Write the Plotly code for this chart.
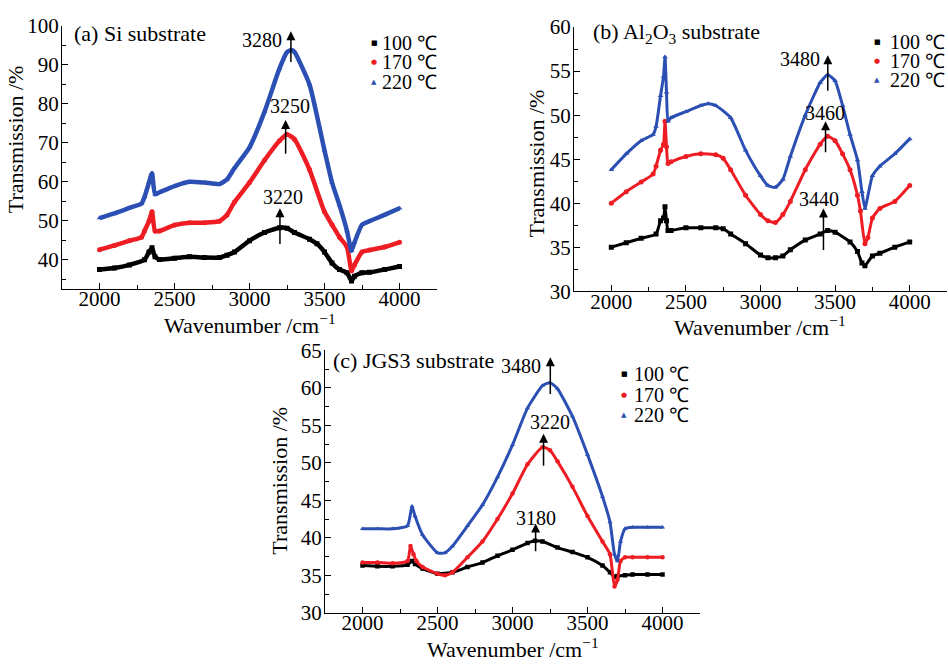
import plotly.graph_objects as go

# ---------------- data ----------------
# (a) Si substrate
a_x_100 = [2000, 2100, 2200, 2300, 2330, 2350, 2370, 2400, 2500, 2600, 2700, 2800, 2850, 2900, 3000, 3100, 3200, 3250, 3300, 3400, 3450, 3500, 3550, 3600, 3650, 3680, 3700, 3750, 3800, 3900, 4000]
a_y_100 = [37.5, 37.9, 38.7, 40.0, 42.0, 43.1, 40.8, 40.1, 40.4, 40.8, 40.6, 40.6, 41.2, 42.0, 44.9, 47.0, 48.2, 48.1, 47.0, 45.3, 44.1, 42.0, 39.2, 37.5, 36.7, 34.6, 35.8, 36.7, 36.8, 37.5, 38.3]
a_x_170 = [2000, 2100, 2200, 2280, 2300, 2330, 2350, 2370, 2400, 2500, 2600, 2700, 2800, 2850, 2900, 3000, 3100, 3200, 3250, 3300, 3400, 3500, 3550, 3600, 3650, 3680, 3700, 3750, 3800, 3900, 4000]
a_y_170 = [42.6, 43.7, 44.9, 45.8, 47.4, 49.9, 52.3, 47.4, 47.4, 48.9, 49.5, 49.5, 49.9, 51.5, 54.8, 59.8, 65.5, 70.5, 72.1, 70.9, 63.1, 52.3, 49.0, 45.8, 43.3, 37.2, 38.7, 42.0, 42.5, 43.3, 44.5]
a_x_220 = [2000, 2100, 2200, 2280, 2300, 2330, 2350, 2370, 2400, 2500, 2600, 2700, 2800, 2850, 2900, 3000, 3100, 3200, 3250, 3280, 3300, 3400, 3500, 3550, 3600, 3650, 3680, 3700, 3750, 3800, 3900, 4000]
a_y_220 = [50.7, 51.9, 53.3, 54.4, 56.1, 59.8, 62.2, 56.8, 57.3, 58.9, 60.0, 59.8, 59.4, 60.6, 63.5, 68.8, 77.9, 89.0, 93.2, 93.7, 93.2, 84.9, 68.0, 59.8, 54.0, 47.4, 42.3, 44.5, 49.0, 49.9, 51.5, 53.2]

# (b) Al2O3 substrate
b_x_100 = [2000, 2100, 2200, 2300, 2330, 2350, 2360, 2370, 2380, 2400, 2500, 2600, 2700, 2750, 2800, 2900, 3000, 3050, 3100, 3150, 3200, 3300, 3400, 3450, 3500, 3600, 3650, 3680, 3700, 3750, 3800, 3900, 4000]
b_y_100 = [35.0, 35.5, 36.0, 36.5, 38.0, 38.3, 39.6, 38.0, 36.9, 36.9, 37.2, 37.2, 37.2, 37.1, 36.5, 35.4, 34.1, 33.8, 33.8, 34.0, 34.7, 35.8, 36.5, 36.9, 36.7, 35.6, 34.5, 33.2, 32.9, 34.0, 34.3, 35.0, 35.6]
b_x_170 = [2000, 2100, 2200, 2280, 2300, 2330, 2350, 2360, 2370, 2380, 2400, 2500, 2600, 2700, 2750, 2800, 2900, 3000, 3050, 3100, 3150, 3200, 3300, 3400, 3450, 3500, 3550, 3600, 3650, 3670, 3700, 3720, 3750, 3800, 3900, 4000]
b_y_170 = [40.0, 41.3, 42.4, 43.3, 44.2, 46.0, 46.7, 49.3, 46.4, 44.5, 44.7, 45.3, 45.6, 45.5, 45.1, 43.8, 40.9, 38.7, 38.0, 37.8, 38.7, 40.2, 43.8, 46.7, 47.6, 47.1, 45.6, 43.8, 40.9, 39.1, 35.4, 36.1, 38.3, 39.4, 40.2, 42.0]
b_x_220 = [2000, 2100, 2200, 2280, 2300, 2330, 2350, 2360, 2370, 2380, 2400, 2500, 2600, 2650, 2700, 2800, 2900, 3000, 3050, 3100, 3150, 3200, 3300, 3400, 3450, 3500, 3550, 3600, 3650, 3680, 3700, 3750, 3800, 3900, 4000]
b_y_220 = [43.8, 45.6, 47.1, 47.8, 48.7, 52.2, 54.4, 56.6, 52.6, 49.3, 49.7, 50.4, 51.1, 51.3, 51.1, 49.7, 46.0, 43.1, 42.0, 41.8, 42.7, 45.3, 50.0, 53.7, 54.6, 53.9, 51.1, 47.8, 44.9, 41.3, 39.4, 43.1, 44.2, 45.6, 47.3]

# (c) JGS3 substrate
c_x_100 = [2000, 2100, 2200, 2300, 2330, 2350, 2400, 2500, 2600, 2700, 2800, 2900, 3000, 3100, 3150, 3200, 3300, 3400, 3500, 3600, 3650, 3680, 3700, 3750, 3800, 3900, 4000]
c_y_100 = [36.3, 36.2, 36.2, 36.4, 36.9, 36.5, 35.9, 35.2, 35.4, 36.1, 36.7, 37.6, 38.4, 39.3, 39.6, 39.5, 38.7, 38.1, 37.4, 36.3, 35.4, 34.8, 34.9, 35.0, 35.1, 35.1, 35.1]
c_x_170 = [2000, 2100, 2200, 2300, 2320, 2340, 2360, 2400, 2500, 2550, 2600, 2700, 2800, 2900, 3000, 3100, 3200, 3250, 3300, 3400, 3500, 3600, 3650, 3680, 3700, 3720, 3750, 3800, 3900, 4000]
c_y_170 = [36.7, 36.7, 36.6, 36.9, 38.9, 37.8, 36.9, 36.1, 35.2, 35.0, 35.4, 37.4, 39.5, 42.5, 45.9, 49.8, 52.1, 51.7, 50.2, 46.8, 42.9, 39.5, 37.8, 33.5, 34.4, 36.9, 37.4, 37.4, 37.4, 37.4]
c_x_220 = [2000, 2100, 2200, 2300, 2330, 2350, 2400, 2500, 2550, 2600, 2700, 2800, 2900, 3000, 3100, 3200, 3250, 3300, 3400, 3500, 3600, 3650, 3680, 3700, 3720, 3750, 3800, 3900, 4000]
c_y_220 = [41.2, 41.2, 41.2, 41.6, 44.2, 42.9, 40.4, 38.0, 38.0, 38.9, 41.6, 44.4, 48.1, 52.4, 57.3, 60.3, 60.7, 59.9, 56.2, 51.1, 45.5, 42.1, 37.8, 36.9, 39.5, 41.2, 41.4, 41.4, 41.4]

series_names = ["100 \u2103", "170 \u2103", "220 \u2103"]
series_colors = ["#000000", "#ee1d24", "#2b4fb3"]
series_symbols = ["square", "circle", "triangle-up"]
legend_glyphs = ["\u25a0", "\u25cf", "\u25b2"]

panel_titles = ["(a) Si substrate", "(b) Al<sub>2</sub>O<sub>3</sub> substrate", "(c) JGS3 substrate"]
x_ticks = [2000, 2500, 3000, 3500, 4000]

# peak labels: text, text position, arrow x, arrow tail y, arrow tip y
a_peaks = [("3280", 3083, 96.3, 3276, 90.3, 98.5), ("3250", 3269, 79.4, 3241, 66.8, 75.8), ("3220", 3220, 56.2, 3203, 43.7, 53.2)]
b_peaks = [("3480", 3267, 56.4, 3451, 52.6, 56.8), ("3460", 3429, 50.2, 3436, 45.6, 49.3), ("3440", 3389, 40.5, 3422, 34.5, 39.4)]
c_peaks = [("3480", 3058, 62.9, 3252, 59.0, 64.1), ("3220", 3247, 55.4, 3207, 49.4, 53.9), ("3180", 3154, 42.7, 3154, 38.0, 41.9)]

# ---------------- figure ----------------
W, H = 948, 672
FONT = "Liberation Serif, Times New Roman, serif"

panels = [
    dict(xs=[a_x_100, a_x_170, a_x_220], ys=[a_y_100, a_y_170, a_y_220], peaks=a_peaks,
         px=(62, 437), py=(14, 287), yr=[32.6, 100], ydt=10, ymin=5, lw=4.5, ms=5,
         title_xy=(72, 22), ytitle_xy=(15, 132), xtitle_xy=(250, 324),
         leg_sym_x=374, leg_txt_x=380, leg_rows=[32, 52, 73]),
    dict(xs=[b_x_100, b_x_170, b_x_220], ys=[b_y_100, b_y_170, b_y_220], peaks=b_peaks,
         px=(574, 947), py=(15.7, 289.5), yr=[30, 60], ydt=5, ymin=2.5, lw=3, ms=5,
         title_xy=(591, 22), ytitle_xy=(536, 157), xtitle_xy=(760, 326),
         leg_sym_x=877, leg_txt_x=888, leg_rows=[31, 51, 71]),
    dict(xs=[c_x_100, c_x_170, c_x_220], ys=[c_y_100, c_y_170, c_y_220], peaks=c_peaks,
         px=(325, 700), py=(351, 623), yr=[30, 65], ydt=5, ymin=2.5, lw=3, ms=4.5,
         title_xy=(331, 361), ytitle_xy=(280, 486), xtitle_xy=(513, 660),
         leg_sym_x=624, leg_txt_x=632, leg_rows=[375, 397, 418]),
]

fig = go.Figure()
annotations = []
for i, p in enumerate(panels):
    k = "" if i == 0 else str(i + 1)
    xa, ya = "x" + k, "y" + k
    for j in range(3):
        fig.add_trace(go.Scatter(
            x=p["xs"][j], y=p["ys"][j], mode="lines+markers", xaxis=xa, yaxis=ya,
            name=series_names[j],
            line=dict(color=series_colors[j], width=p["lw"], shape="spline", smoothing=0.5),
            marker=dict(color=series_colors[j], size=p["ms"], symbol=series_symbols[j]),
            showlegend=False, hoverinfo="skip"))
    xd = [p["px"][0] / W, p["px"][1] / W]
    yd = [1 - p["py"][1] / H, 1 - p["py"][0] / H]
    axis_common = dict(showline=True, linecolor="black", linewidth=1.3, ticks="inside",
                       ticklen=6, tickwidth=1.2, tickcolor="black", showgrid=False,
                       zeroline=False, mirror=False,
                       tickfont=dict(family=FONT, size=21, color="black"))
    fig.update_layout(**{
        "xaxis" + k: dict(domain=xd, range=[1750, 4250], anchor=ya, tickvals=x_ticks,
                          ticklabelstandoff=-9,
                          minor=dict(dtick=250, tick0=2000, ticks="inside", ticklen=4,
                                     tickcolor="black", tickwidth=1.2, showgrid=False),
                          **axis_common),
        "yaxis" + k: dict(domain=yd, range=p["yr"], anchor=xa, dtick=p["ydt"], tick0=0,
                          ticklabelstandoff=-2,
                          minor=dict(dtick=p["ymin"], tick0=0, ticks="inside", ticklen=4,
                                     tickcolor="black", tickwidth=1.2, showgrid=False),
                          **axis_common),
    })
    # panel title
    annotations.append(dict(text=panel_titles[i], x=p["title_xy"][0] / W, y=1 - p["title_xy"][1] / H,
                            xref="paper", yref="paper", xanchor="left", yanchor="middle",
                            showarrow=False, font=dict(family=FONT, size=22, color="black")))
    annotations.append(dict(text="Transmission /%", x=p["ytitle_xy"][0] / W, y=1 - p["ytitle_xy"][1] / H,
                            xref="paper", yref="paper", xanchor="center", yanchor="middle",
                            textangle=-90, showarrow=False,
                            font=dict(family=FONT, size=22, color="black")))
    annotations.append(dict(text="Wavenumber /cm<sup>\u22121</sup>", x=p["xtitle_xy"][0] / W,
                            y=1 - p["xtitle_xy"][1] / H, xref="paper", yref="paper",
                            xanchor="center", yanchor="middle", showarrow=False,
                            font=dict(family=FONT, size=22, color="black")))
    # legend (symbol + label)
    for j in range(3):
        ry = 1 - p["leg_rows"][j] / H
        annotations.append(dict(text=legend_glyphs[j], x=p["leg_sym_x"] / W, y=ry,
                                xref="paper", yref="paper", xanchor="center", yanchor="middle",
                                showarrow=False,
                                font=dict(family="DejaVu Sans", size=7, color=series_colors[j])))
        annotations.append(dict(text=series_names[j], x=p["leg_txt_x"] / W, y=ry,
                                xref="paper", yref="paper", xanchor="left", yanchor="middle",
                                showarrow=False, font=dict(family=FONT, size=20, color="black")))
    for (txt, tx, ty, axx, tail, tip) in p["peaks"]:
        annotations.append(dict(text=txt, x=tx, y=ty, xref=xa, yref=ya, showarrow=False,
                                xanchor="center", yanchor="middle",
                                font=dict(family=FONT, size=20, color="black")))
        annotations.append(dict(text="", x=axx, y=tip, ax=axx, ay=tail, xref=xa, yref=ya,
                                axref=xa, ayref=ya, showarrow=True, arrowhead=2,
                                arrowsize=1.2, arrowwidth=1.5, arrowcolor="black"))

fig.update_layout(width=W, height=H, margin=dict(l=0, r=0, t=0, b=0),
                  paper_bgcolor="white", plot_bgcolor="white",
                  annotations=annotations, showlegend=False)
fig.write_html("out.html", config={"displayModeBar": False},
               post_script="document.body.style.margin='0px';")
